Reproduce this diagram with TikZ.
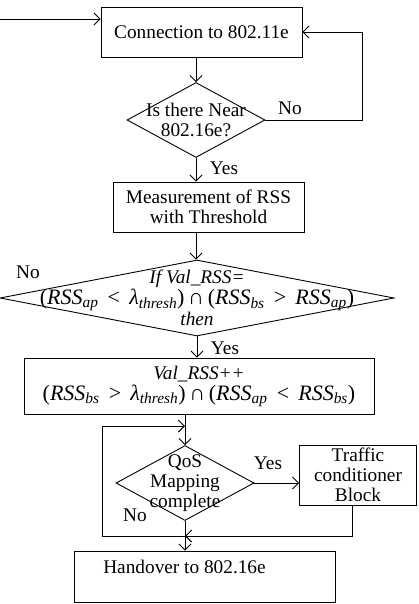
\documentclass[tikz,border=0pt]{standalone}
\usepackage{fontspec}
\setmainfont{Liberation Serif}
\usetikzlibrary{positioning,arrows.meta,shapes.geometric}

\newcommand{\rssx}[1]{\textit{RSS}\textsubscript{\textit{#1}}}
\newcommand{\lamth}{\textit{λ}\textsubscript{\textit{thresh}}}

\begin{document}
\begin{tikzpicture}[x=1pt,y=-1pt,line width=0.9pt,font=\fontsize{19.3}{20}\selectfont,
  >={Straight Barb[length=6pt,width=12pt]}]
  \tikzset{blk/.style={draw,rectangle,inner sep=0pt,align=center},
    dec/.style={draw,diamond,inner sep=0pt},
    frm/.style={font=\fontsize{22}{22}\selectfont}}
  \useasboundingbox (0,0) rectangle (418,604);
  \node[blk,minimum width=201pt,minimum height=50pt] (conn) at (201.5,32) {Connection to 802.11e};
  \node[dec,minimum width=138pt,minimum height=75pt] (near) at (196,120) {};
  \node[align=center] (neart) at (near) {Is there Near\\802.16e?};
  \node[blk,minimum width=191pt,minimum height=50pt] (meas) at (208.5,207) {Measurement of RSS\\with Threshold};
  \node[dec,minimum width=394pt,minimum height=76pt] (rssd) at (197,298) {};
  \node[align=center] (rssdt) at (rssd) {\textit{If Val\_RSS=}\\[1pt]
    {\fontsize{22}{22}\selectfont(\rssx{ap} \,<\, \lamth)\,∩\,(\rssx{bs} \,>\, \rssx{ap})}\\[1pt]\textit{then}};
  \node[blk,minimum width=350pt,minimum height=56pt] (val) at (199,386) {\textit{Val\_RSS++}\\[1pt]
    {\fontsize{22}{22}\selectfont(\rssx{bs} \,>\, \lamth)\,∩\,(\rssx{ap} \,<\, \rssx{bs})}};
  \node[dec,minimum width=138pt,minimum height=75pt] (qos) at (185,483) {};
  \node[align=center] (qost) at (qos) {QoS\\Mapping\\complete};
  \node[blk,minimum width=117pt,minimum height=60pt] (tcb) at (358,475) {Traffic\\conditioner\\Block};
  \node[blk,minimum width=261pt,minimum height=51pt,
    label={[xshift=-20pt,yshift=10pt]center:Handover to 802.16e}] (ho) at (204.5,576.5) {};
  \coordinate (in) at (0,19);
  \coordinate (top) at (185,426);
  \coordinate (jn) at (185,536);
  \draw[->] (in) -- (in -| conn.west);
  \draw[->] (conn.south -| near.north) -- (near.north);
  \draw[->] (near.east) -- ++(97,0) |- (conn.east);
  \draw[->] (near.south) -- (near.south |- meas.north);
  \draw[->] (meas.south -| near.south) -- (rssd.north -| near.south);
  \draw[->] (rssd.south) -- (rssd.south |- val.north);
  \draw[->] (val.south -| qos.north) -- (qos.north);
  \draw[->] (qos.east) -- (qos.east -| tcb.west);
  \draw[->] ([xshift=-6pt]tcb.south) |- (jn);
  \draw[->] (jn) -| (102,426) -- (top);
  \draw[->] (qos.south) -- (qos.south |- ho.north);
  \node at (290,108) {No};
  \node at (224,168) {Yes};
  \node at (28,272) {No};
  \node at (225,348) {Yes};
  \node at (268,463) {Yes};
  \node at (135,515) {No};
\end{tikzpicture}
\end{document}
